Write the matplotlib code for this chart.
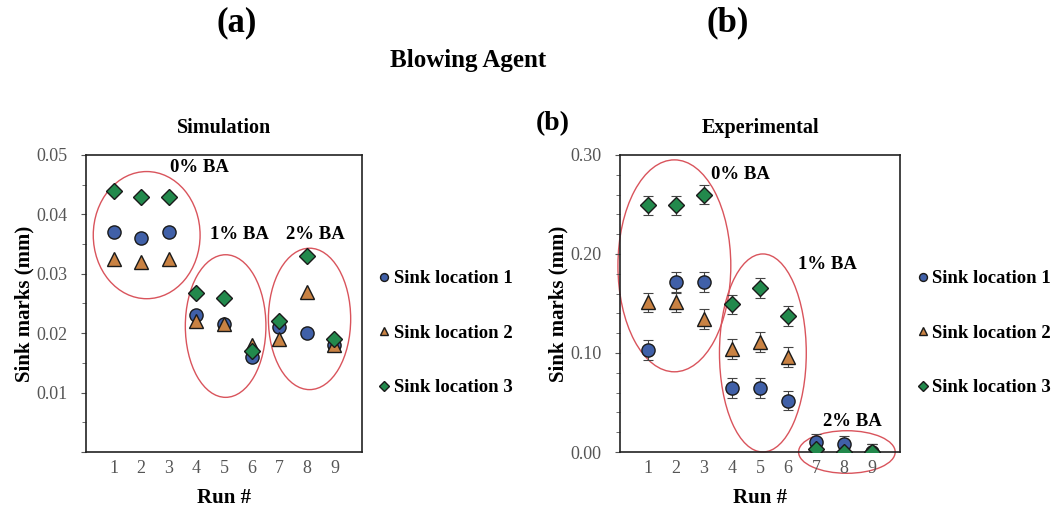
import matplotlib

matplotlib.use("Agg")
import matplotlib.pyplot as plt
from matplotlib.patches import Ellipse
from matplotlib.ticker import MultipleLocator

RUNS = [1, 2, 3, 4, 5, 6, 7, 8, 9]
SERIES = ["Sink location 1", "Sink location 2", "Sink location 3"]

# Simulation sink marks (mm)
SIM_LOC1 = [0.037, 0.036, 0.037, 0.023, 0.0215, 0.016, 0.021, 0.020, 0.018]
SIM_LOC2 = [0.0325, 0.032, 0.0325, 0.022, 0.0215, 0.018, 0.019, 0.027, 0.018]
SIM_LOC3 = [0.044, 0.043, 0.043, 0.0268, 0.026, 0.017, 0.022, 0.033, 0.019]

# Experimental sink marks (mm)
EXP_LOC1 = [0.103, 0.172, 0.172, 0.065, 0.065, 0.052, 0.010, 0.008, 0.000]
EXP_LOC2 = [0.151, 0.151, 0.134, 0.104, 0.111, 0.096, 0.003, 0.000, 0.000]
EXP_LOC3 = [0.249, 0.249, 0.260, 0.149, 0.166, 0.137, 0.003, 0.000, 0.000]
EXP_ERR = [0.010, 0.010, 0.010, 0.010, 0.010, 0.010, 0.008, 0.008, 0.008]

GROUPS = ["0% BA", "1% BA", "2% BA"]
# (x center, y center, width, height) of the group ellipses
SIM_ELLIPSES = [(2.2, 0.0365, 3.87, 0.0214), (5.06, 0.0212, 2.92, 0.024), (8.1, 0.0224, 2.98, 0.0238)]
EXP_ELLIPSES = [(1.94, 0.188, 4.03, 0.214), (5.1, 0.100, 3.1, 0.200), (8.1, 0.0, 3.45, 0.043)]
SIM_LABEL_POS = [(4.1, 0.0478), (5.57, 0.0366), (8.3, 0.0366)]
EXP_LABEL_POS = [(4.3, 0.280), (7.4, 0.189), (8.3, 0.031)]

BLUE = "#4060a8"
ORANGE = "#c98243"
GREEN = "#22894c"
RED = "#d9545c"

plt.rcParams.update({"font.family": ["Liberation Serif", "DejaVu Serif"], "font.weight": "bold"})

fig = plt.figure(figsize=(10.52, 5.14), dpi=100)
ax1 = fig.add_axes([0.0817, 0.1206, 0.2624, 0.578])
ax2 = fig.add_axes([0.5894, 0.1206, 0.2662, 0.578])

styles = [
    dict(marker="o", color=BLUE, ms=9.5),
    dict(marker="^", color=ORANGE, ms=10.5),
    dict(marker="D", color=GREEN, ms=8.5),
]


def draw(ax, data, err, ellipses, label_pos, ymax, major, minor, fmt):
    for vals, st, name in zip(data, styles, SERIES):
        if err is not None:
            ax.errorbar(RUNS, vals, yerr=err, fmt="none", ecolor="#444444", elinewidth=0.8,
                        capsize=3.5, capthick=0.8, zorder=2)
        ax.plot(RUNS, vals, linestyle="none", marker=st["marker"], markersize=st["ms"],
                markerfacecolor=st["color"], markeredgecolor="#1a1a1a", markeredgewidth=1.0,
                label=name, zorder=3)
    for (cx, cy, w, h) in ellipses:
        ax.add_patch(Ellipse((cx, cy), w, h, fill=False, edgecolor=RED, linewidth=1.0, zorder=1))
    for g, (tx, ty) in zip(GROUPS, label_pos):
        ax.text(tx, ty, g, ha="center", va="center", fontsize=13.5, fontweight="bold")
    ax.set_xlim(0, 10)
    ax.set_ylim(0, ymax)
    ax.set_xticks(range(0, 11))
    ax.set_xticklabels([""] + [str(r) for r in RUNS] + [""])
    ax.yaxis.set_major_locator(MultipleLocator(major))
    ax.yaxis.set_minor_locator(MultipleLocator(minor))
    ax.yaxis.set_major_formatter(fmt)
    ax.tick_params(axis="both", labelsize=13, colors="#555555", labelcolor="#555555", direction="out")
    ax.tick_params(axis="y", pad=10)
    ax.tick_params(axis="y", which="minor", length=3, colors="#555555")
    ax.tick_params(axis="x", length=0, pad=6)
    for lbl in ax.get_xticklabels() + ax.get_yticklabels():
        lbl.set_fontweight("normal")
    for sp in ax.spines.values():
        sp.set_linewidth(1.2)
        sp.set_color("#222222")
    ax.set_xlabel("Run #", fontsize=15, fontweight="bold", labelpad=8)
    ax.set_ylabel("Sink marks (mm)", fontsize=15, fontweight="bold", labelpad=1)
    ax.legend(loc="center left", bbox_to_anchor=(1.0, 0.40), frameon=False, fontsize=13.5,
              handletextpad=0.0, handlelength=1.0, labelspacing=2.0, markerscale=0.6,
              borderaxespad=0.3)


draw(ax1, [SIM_LOC1, SIM_LOC2, SIM_LOC3], None, SIM_ELLIPSES, SIM_LABEL_POS, 0.05, 0.01, 0.005,
     lambda v, p: "" if abs(v) < 1e-9 else f"{v:.2f}")
draw(ax2, [EXP_LOC1, EXP_LOC2, EXP_LOC3], EXP_ERR, EXP_ELLIPSES, EXP_LABEL_POS, 0.30, 0.10, 0.02,
     lambda v, p: f"{v:.2f}")
for p in ax2.patches:
    p.set_clip_on(False)

ax1.set_title("Simulation", fontsize=14.5, fontweight="bold", pad=16)
ax2.set_title("Experimental", fontsize=14.5, fontweight="bold", pad=16)
fig.text(0.225, 0.955, "(a)", fontsize=25, fontweight="bold", ha="center", va="center")
fig.text(0.692, 0.955, "(b)", fontsize=25, fontweight="bold", ha="center", va="center")
fig.text(0.445, 0.883, "Blowing Agent", fontsize=18, fontweight="bold", ha="center", va="center")
fig.text(0.525, 0.759, "(b)", fontsize=20, fontweight="bold", ha="center", va="center")

fig.savefig("out.png", dpi=100)
